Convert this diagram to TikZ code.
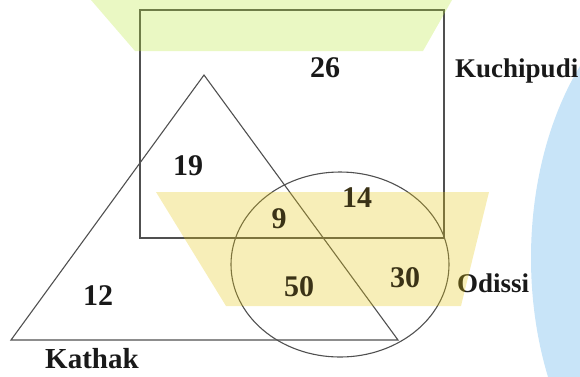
\documentclass[tikz,border=0pt]{standalone}
\usepackage{fontspec}
\setmainfont{Liberation Serif}
\definecolor{lineg}{RGB}{80,80,80}
\definecolor{greenov}{RGB}{184,232,55}
\definecolor{yellowov}{RGB}{230,200,20}
\definecolor{bluebg}{RGB}{200,228,248}
\definecolor{txt}{RGB}{25,25,25}
\definecolor{txtol}{RGB}{58,50,22}
\tikzset{
  shapeline/.style={draw=lineg, line width=1.1pt},
  num/.style={inner sep=0pt, anchor=center, text=txt, font=\fontsize{30}{36}\selectfont\bfseries},
  numol/.style={num, text=txtol},
  setlabel/.style={inner sep=0pt, anchor=base west, text=txt, font=\fontsize{27}{32}\selectfont\bfseries},
  overlay/.style={fill opacity=0.3}
}
\begin{document}
\begin{tikzpicture}[x=1pt,y=-1pt]
\useasboundingbox (0,0) rectangle (580,376);
% blue background ellipse on the right
\fill[bluebg] (711,258) ellipse [x radius=180, y radius=280];
% shapes
\draw[shapeline] (140,10) rectangle (444,238);
\draw[shapeline] (204,75) -- (11,340) -- (398,340) -- cycle;
\draw[shapeline] (340,264.5) ellipse [x radius=109, y radius=92.5];
% numbers outside the yellow band
\node[num] (n26) at (325,68) {26};
\node[num] (n19) at (188,166) {19};
\node[num] (n12) at (98,296) {12};
% labels
\node[setlabel] (kuchipudi) at (455,77) {Kuchipudi};
\node[setlabel] (odissi) at (457,292) {Odissi};
\node[setlabel, font=\fontsize{29}{34}\selectfont\bfseries] (kathak) at (45,368) {Kathak};
% translucent bands
\fill[greenov, overlay] (91,0) -- (452,0) -- (423,51) -- (135,51) -- cycle;
\fill[yellowov, overlay] (156,192) -- (489,192) -- (461,306) -- (226,306) -- cycle;
% numbers inside the yellow band
\node[numol] (n9) at (279,219) {9};
\node[numol] (n14) at (357,197.5) {14};
\node[numol] (n50) at (299,286.5) {50};
\node[numol] (n30) at (405,277.5) {30};
\end{tikzpicture}
\end{document}
